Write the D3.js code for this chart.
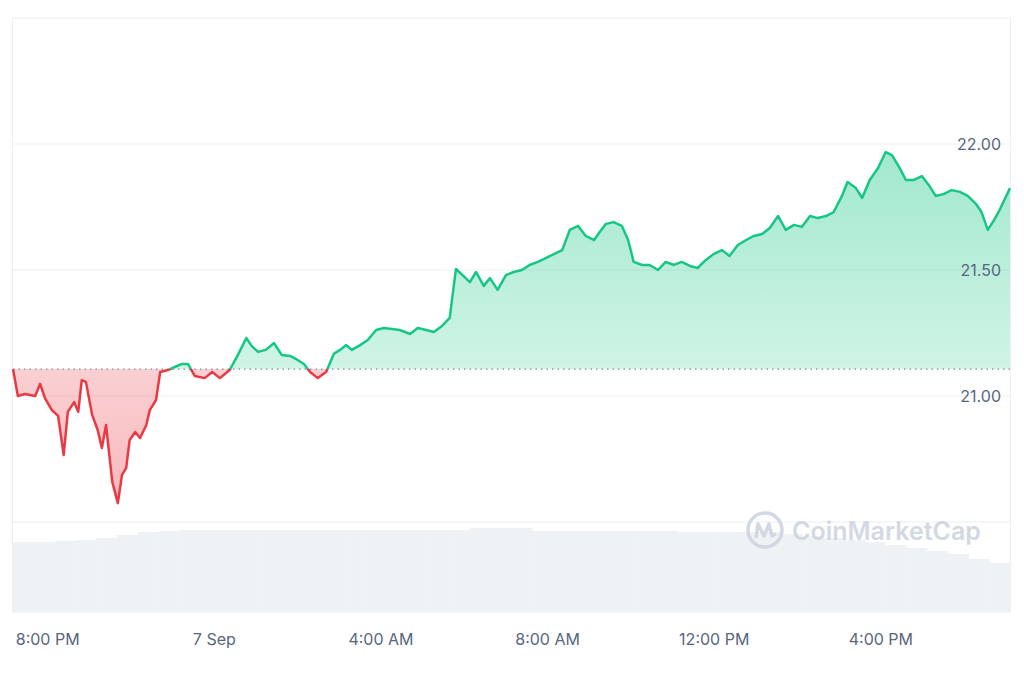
<!DOCTYPE html>
<html><head><meta charset="utf-8">
<script src="https://cdn.jsdelivr.net/npm/d3@7"></script>
<style>body{margin:0;background:#fff}</style>
</head><body><div id="chart"></div>
<script>
// minutes since 6 Sep 19:10
const minutes = [0,7,17,32,39,46,56,65,73,79,88,94,99,105,114,122,128,134,143,151,157,163,168,176,183,192,197,206,212,223,233,243,252,262,276,287,298,312,324,336,344,353,364,376,387,399,410,419,428,439,451,462,471,480,488,500,511,523,534,546,557,572,583,595,606,618,629,638,649,658,667,678,687,698,710,721,733,744,756,768,779,791,802,814,825,837,845,854,865,877,886,894,906,917,929,940,952,963,975,986,998,1009,1021,1032,1044,1056,1067,1079,1090,1102,1113,1125,1136,1148,1159,1171,1182,1194,1202,1214,1223,1234,1246,1257,1266,1277,1286,1297,1309,1320,1329,1341,1352,1364,1375,1387,1395,1404,1413,1421,1436];
const prices = [21.107,21.000,21.008,21.000,21.048,20.992,20.944,20.921,20.766,20.937,20.976,20.937,21.063,21.056,20.925,20.865,20.794,20.885,20.659,20.575,20.687,20.714,20.825,20.857,20.833,20.885,20.944,20.984,21.095,21.103,21.115,21.127,21.127,21.079,21.071,21.095,21.071,21.103,21.163,21.230,21.198,21.175,21.183,21.210,21.163,21.159,21.143,21.127,21.095,21.071,21.095,21.167,21.183,21.202,21.183,21.202,21.222,21.262,21.270,21.266,21.262,21.246,21.270,21.262,21.254,21.278,21.310,21.504,21.476,21.452,21.492,21.437,21.468,21.421,21.480,21.492,21.500,21.520,21.532,21.548,21.563,21.579,21.659,21.675,21.635,21.619,21.651,21.683,21.690,21.675,21.619,21.532,21.520,21.520,21.500,21.532,21.520,21.532,21.516,21.508,21.540,21.563,21.579,21.556,21.599,21.619,21.635,21.643,21.667,21.714,21.659,21.679,21.671,21.714,21.706,21.714,21.730,21.794,21.849,21.825,21.786,21.857,21.905,21.968,21.956,21.905,21.857,21.857,21.873,21.833,21.794,21.802,21.817,21.810,21.794,21.762,21.730,21.659,21.698,21.738,21.825];
// half-hour volume (relative)
const volumes = [70,70,71,72,74,77,80,81,82,82,82,82,82,82,82,82,82,82,82,82,82,82,84,84,84,81,81,81,81,81,81,81,80,80,80,80,80,78,76,74,72,70,67,64,61,58,53,49];
const yTicks = [21.0, 21.5, 22.0];
const gridVals = [20.5, 21.0, 21.5, 22.0];
const xTicks = [
  {t: new Date(2023,8,6,20,0), label:"8:00 PM"},
  {t: new Date(2023,8,7,0,0), label:"7 Sep"},
  {t: new Date(2023,8,7,4,0), label:"4:00 AM"},
  {t: new Date(2023,8,7,8,0), label:"8:00 AM"},
  {t: new Date(2023,8,7,12,0), label:"12:00 PM"},
  {t: new Date(2023,8,7,16,0), label:"4:00 PM"}
];
const openPrice = 21.107;

const width = 1024, height = 683;
const start = new Date(2023,8,6,19,10);
const data = minutes.map((m,i) => ({t: new Date(+start + m*60000), p: prices[i]}));

const svg = d3.select("#chart").append("svg").attr("width", width).attr("height", height);
const x = d3.scaleTime().domain([start, new Date(+start + 1436*60000)]).range([13, 1010]);
const y = d3.scaleLinear().domain([21, 22]).range([396, 144]);
const yTop = y(22.5);

// frame
svg.append("rect").attr("x",12.5).attr("y",yTop).attr("width",998).attr("height",612-yTop)
  .attr("fill","none").attr("stroke","#eceff3");
svg.selectAll(".grid").data(gridVals).enter().append("line")
  .attr("x1",13).attr("x2",1010).attr("y1",d=>y(d)).attr("y2",d=>y(d))
  .attr("stroke","#eceff3");

// volume
const vx = d3.scaleBand().domain(d3.range(volumes.length)).range([13,1010]).padding(0);
const vy = d3.scaleLinear().domain([0,84]).range([612, 612-84]);
svg.selectAll(".vol").data(volumes).enter().append("rect")
  .attr("x",(d,i)=>vx(i)).attr("width",vx.bandwidth()+0.5)
  .attr("y",d=>vy(d)).attr("height",d=>612-vy(d)).attr("fill","#eff2f5");

// watermark
const wm = svg.append("g").attr("opacity",0.9);
wm.append("circle").attr("cx",765).attr("cy",530).attr("r",17).attr("fill","none").attr("stroke","#cfd5e0").attr("stroke-width",3.5);
wm.append("path").attr("d","M756,538 L758,524 L764,536 L769,524 L772,536 L776,534").attr("fill","none").attr("stroke","#cfd5e0").attr("stroke-width",3.5).attr("stroke-linejoin","round");
wm.append("text").attr("x",792).attr("y",540).attr("fill","#cfd5e0").style("font-family","Inter, sans-serif").style("font-size","25px").style("font-weight","600").text("CoinMarketCap");

// fills
const defs = svg.append("defs");
const by = y(openPrice);
const gG = defs.append("linearGradient").attr("id","gG").attr("x1",0).attr("x2",0).attr("y1",0).attr("y2",1);
gG.append("stop").attr("offset","0%").attr("stop-color","#16c784").attr("stop-opacity",0.4);
gG.append("stop").attr("offset","100%").attr("stop-color","#16c784").attr("stop-opacity",0.08);
const gR = defs.append("linearGradient").attr("id","gR").attr("x1",0).attr("x2",0).attr("y1",1).attr("y2",0);
gR.append("stop").attr("offset","0%").attr("stop-color","#ea3943").attr("stop-opacity",0.35);
gR.append("stop").attr("offset","100%").attr("stop-color","#ea3943").attr("stop-opacity",0.06);
defs.append("clipPath").attr("id","above").append("rect").attr("x",0).attr("y",0).attr("width",width).attr("height",by);
defs.append("clipPath").attr("id","below").append("rect").attr("x",0).attr("y",by).attr("width",width).attr("height",height-by);

const area = d3.area().x(d=>x(d.t)).y0(by).y1(d=>y(d.p));
const line = d3.line().x(d=>x(d.t)).y(d=>y(d.p));
svg.append("path").datum(data).attr("d",area).attr("fill","url(#gG)").attr("clip-path","url(#above)");
svg.append("path").datum(data).attr("d",area).attr("fill","url(#gR)").attr("clip-path","url(#below)");

svg.append("line").attr("x1",13).attr("x2",1010).attr("y1",by).attr("y2",by)
  .attr("stroke","#808a9d").attr("stroke-dasharray","1.5,4").attr("stroke-width",1.2);

svg.append("path").datum(data).attr("d",line).attr("fill","none").attr("stroke","#16c784")
  .attr("stroke-width",2.5).attr("stroke-linejoin","round").attr("clip-path","url(#above)");
svg.append("path").datum(data).attr("d",line).attr("fill","none").attr("stroke","#ea3943")
  .attr("stroke-width",2.5).attr("stroke-linejoin","round").attr("clip-path","url(#below)");

// y labels
svg.selectAll(".yl").data(yTicks).enter().append("text")
  .attr("x",1001).attr("y",d=>y(d)+6).attr("text-anchor","end")
  .attr("fill","#58667e").style("font-family","Inter, sans-serif").style("font-size","16px")
  .text(d=>d3.format(".2f")(d));

// x labels
svg.selectAll(".xl").data(xTicks).enter().append("text")
  .attr("x",d=>x(d.t)).attr("y",645).attr("text-anchor","middle")
  .attr("fill","#58667e").style("font-family","Inter, sans-serif").style("font-size","16px")
  .text(d=>d.label);
</script></body></html>
